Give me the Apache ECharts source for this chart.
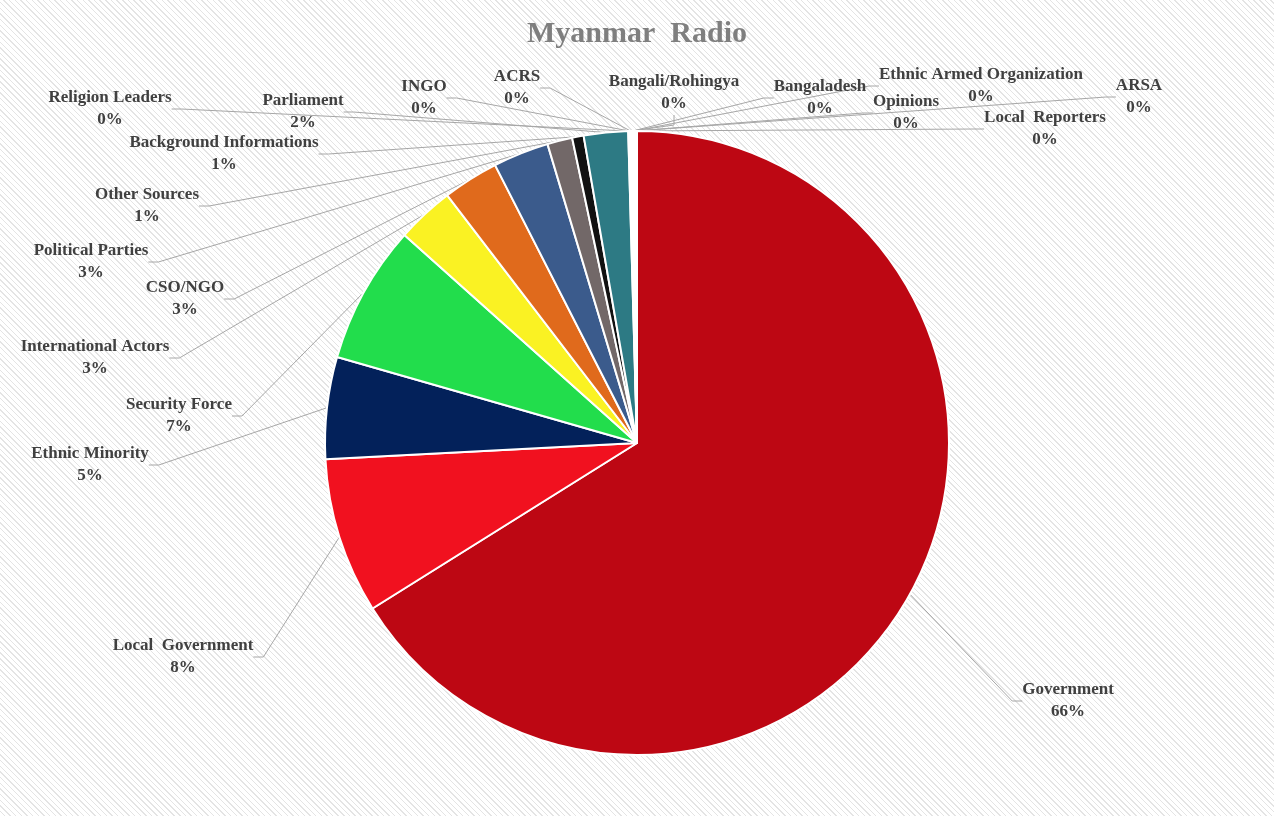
<!DOCTYPE html>
<html>
<head>
<meta charset="utf-8">
<script src="https://cdn.jsdelivr.net/npm/echarts@6/dist/echarts.min.js"></script>
<style>
  html, body { margin: 0; padding: 0; }
  #chart {
    width: 1274px; height: 816px;
    background: repeating-linear-gradient(45deg, #ffffff 0px, #ffffff 3px, #e4e4e4 3px, #e4e4e4 4px);
  }
</style>
</head>
<body>
<div id="chart"></div>
<script>
// source categories in clockwise order from 12 o'clock
const sources = [
  "Government", "Local  Government", "Ethnic Minority", "Security Force",
  "International Actors", "CSO/NGO", "Political Parties", "Other Sources",
  "Background Informations", "Parliament", "Religion Leaders", "INGO", "ACRS",
  "Bangali/Rohingya", "Bangaladesh", "Ethnic Armed Organization", "Opinions",
  "ARSA", "Local  Reporters"
];
// share of coverage (percent)
const shares = [66.4, 8.1, 5.3, 7.2, 3.0, 2.9, 2.9, 1.3, 0.6, 2.3,
  0.05, 0.05, 0.05, 0.05, 0.05, 0.05, 0.05, 0.05, 0.05];

const colors = ["#bd0713", "#f1111f", "#03215a", "#22dd4c", "#faf223", "#e06a1c",
  "#3b5b8c", "#726868", "#111111", "#2d7a84",
  "#9aa", "#889", "#778", "#667", "#556", "#445", "#334", "#223", "#112"];

// where each label sits on the page (layout only)
const labelSpots = [
  [1068, 701], [183, 657], [90, 465], [179, 416], [95, 358], [185, 299],
  [91, 262], [147, 206], [224, 154], [303, 112], [110, 109], [424, 98],
  [517, 88], [674, 93], [820, 98], [981, 86], [906, 113], [1139, 97], [1045, 129]
];

const total = shares.reduce((a, b) => a + b, 0);

var chart = echarts.init(document.getElementById("chart"));
chart.setOption({
  backgroundColor: "transparent",
  title: {
    text: "Myanmar  Radio",
    left: "center",
    top: 14,
    textStyle: { fontFamily: "Liberation Serif", fontSize: 30, fontWeight: "bold", color: "#7f7f7f" }
  },
  series: [{
    type: "pie",
    center: [637, 443],
    radius: [0, 312],
    startAngle: 90,
    clockwise: true,
    animation: false,
    itemStyle: { borderColor: "#fff", borderWidth: 2 },
    label: {
      show: true,
      fontFamily: "Liberation Serif",
      fontSize: 17,
      fontWeight: "bold",
      color: "#404040",
      lineHeight: 22,
      align: "center",
      formatter: function (p) {
        return p.name + "\n" + Math.round(p.value / total * 100) + "%";
      }
    },
    labelLine: { show: true, length: 10, length2: 10, lineStyle: { color: "#a6a6a6", width: 1 } },
    labelLayout: function (p) {
      const s = labelSpots[p.dataIndex];
      return { x: s[0], y: s[1], align: "center", verticalAlign: "middle" };
    },
    data: sources.map((n, i) => ({ name: n, value: shares[i], itemStyle: { color: colors[i] } }))
  }]
});
</script>
</body>
</html>
